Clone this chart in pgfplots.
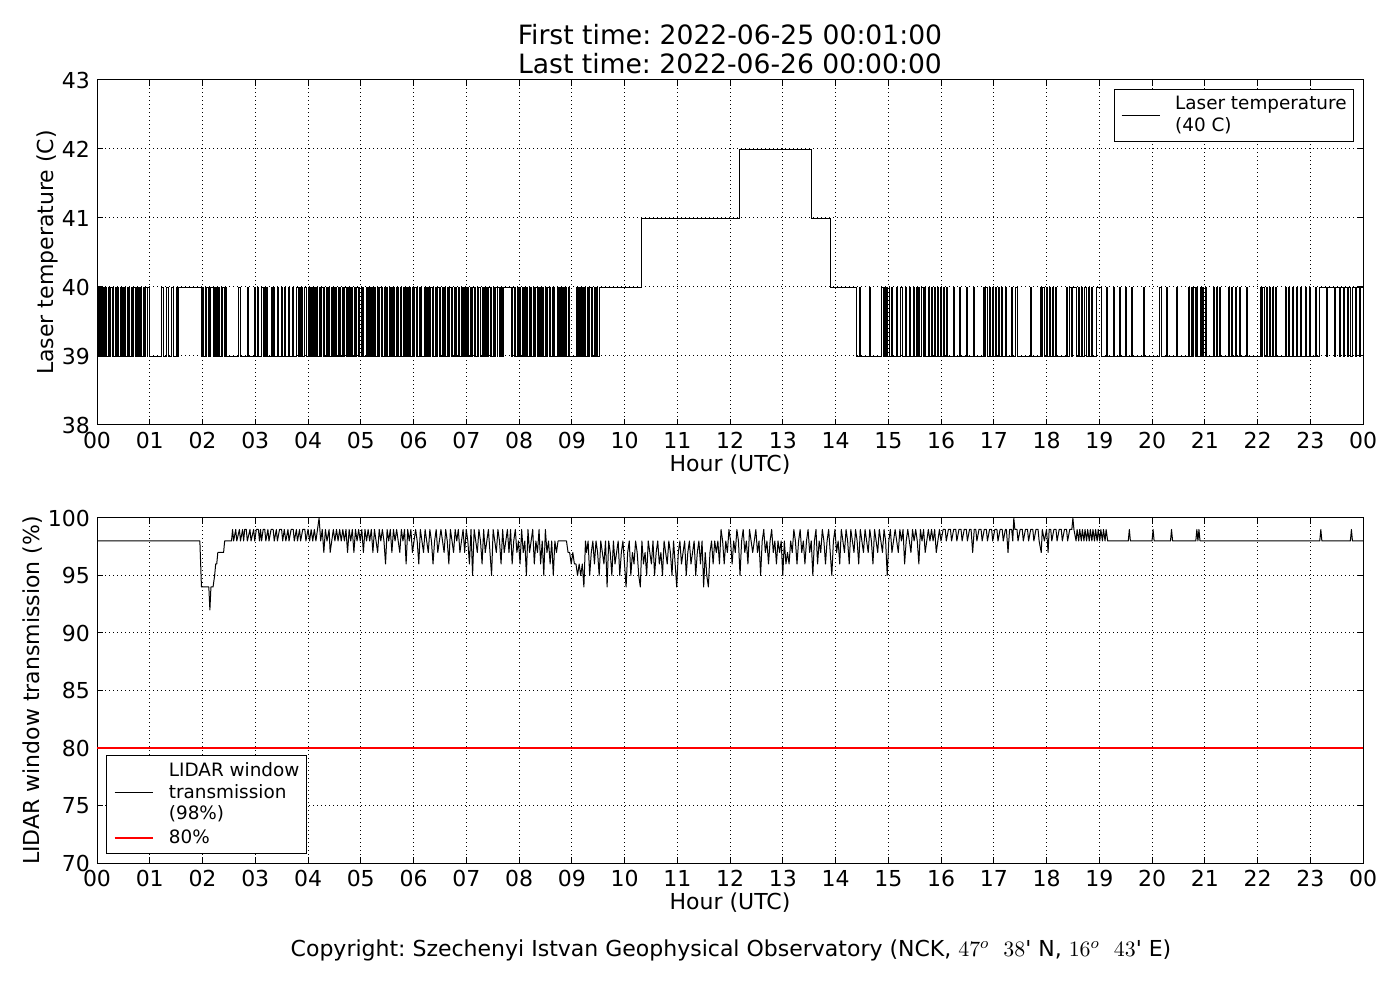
\documentclass[border=0pt]{standalone}
\usepackage{pgfplots}
\pgfplotsset{compat=1.18}
\usepackage{fontspec}
\setmainfont{DejaVu Sans}
\frenchspacing
\begin{document}
\begin{tikzpicture}
\path[use as bounding box] (0pt,0pt) rectangle (700pt,500pt);
\pgfplotsset{
  every axis/.append style={
    scale only axis, width=633pt, height=172.5pt,
    xmin=0, xmax=24, xtick={0,...,24},
    xticklabels={00,01,02,03,04,05,06,07,08,09,10,11,12,13,14,15,16,17,18,19,20,21,22,23,00},
    grid=major, grid style={black, line width=0.5pt, dash pattern=on 0.5pt off 1.5pt},
    axis line style={line width=0.5pt},
    major tick length=2.8pt, tick style={black, line width=0.5pt},
    tick label style={font=\fontsize{11}{13}\selectfont},
    label style={font=\fontsize{11}{13}\selectfont},
    /pgf/number format/assume math mode=true,
    xlabel={Hour (UTC)},
    xlabel style={at={(axis description cs:0.5,0)}, anchor=center, yshift=-20pt},
    legend cell align=left,
    legend image code/.code={\draw[#1] (0pt,0pt) -- (19pt,0pt);},
    legend style={draw=black, line width=0.5pt, font=\fontsize{9.2}{10.8}\selectfont,
      nodes={align=left, inner xsep=0pt, inner ysep=1pt}, inner xsep=3.5pt, inner ysep=2.5pt,
      column sep=7.5pt, row sep=1.5pt},
  }
}
\begin{axis}[at={(48.5pt,287.5pt)}, anchor=south west,
  ymin=38, ymax=43, ytick={38,...,43},
  ylabel={Laser temperature (C)},
  ylabel style={at={(axis description cs:-0.0395,0.5)}, anchor=center},
  legend style={at={(rel axis cs:0.993,0.974)}, anchor=north east}]
\addplot[black, line width=0.45pt, const plot] coordinates {
(0.00,40) (0.02,39) (0.04,40) (0.07,39) (0.08,40) (0.10,39) (0.13,40) (0.15,39) (0.16,40) (0.18,39)
(0.22,40) (0.24,39) (0.26,40) (0.29,39) (0.30,40) (0.32,39) (0.35,40) (0.37,39) (0.38,40) (0.40,39)
(0.44,40) (0.46,39) (0.48,40) (0.51,39) (0.52,40) (0.54,39) (0.57,40) (0.59,39) (0.60,40) (0.62,39)
(0.66,40) (0.68,39) (0.70,40) (0.73,39) (0.74,40) (0.76,39) (0.79,40) (0.81,39) (0.82,40) (0.84,39)
(0.88,40) (0.90,39) (0.92,40) (0.95,39) (0.96,40) (0.99,39)
(1.23,40) (1.26,39) (1.32,40) (1.35,39) (1.42,40) (1.44,39) (1.50,40) (1.53,39) (1.55,40)
(1.98,39) (2.00,40) (2.02,39) (2.05,40) (2.06,39) (2.08,40) (2.11,39) (2.13,40) (2.14,39) (2.16,40)
(2.20,39) (2.22,40) (2.24,39) (2.27,40) (2.28,39) (2.30,40) (2.33,39) (2.35,40) (2.36,39) (2.38,40)
(2.42,39) (2.44,40) (2.46,39) (2.69,40) (2.71,39) (2.85,40) (2.87,39)
(2.98,40) (3.00,39) (3.05,40) (3.07,39) (3.12,40) (3.16,39) (3.18,40) (3.20,39) (3.22,40) (3.24,39)
(3.30,40) (3.33,39) (3.34,40) (3.36,39) (3.42,40) (3.44,39) (3.50,40) (3.52,39) (3.55,40) (3.57,39)
(3.62,40) (3.65,39) (3.70,40) (3.73,39) (3.78,40) (3.81,39) (3.84,40) (3.86,39) (3.88,40) (3.90,39)
(3.94,40) (3.97,39)
(4.00,40) (4.02,39) (4.04,40) (4.07,39) (4.08,40) (4.10,39) (4.13,40) (4.15,39) (4.16,40) (4.18,39)
(4.22,40) (4.24,39) (4.26,40) (4.29,39) (4.30,40) (4.32,39) (4.35,40) (4.37,39) (4.38,40) (4.40,39)
(4.44,40) (4.46,39) (4.48,40) (4.51,39) (4.52,40) (4.54,39) (4.57,40) (4.59,39) (4.60,40) (4.62,39)
(4.66,40) (4.68,39) (4.70,40) (4.73,39) (4.74,40) (4.76,39) (4.79,40) (4.81,39) (4.82,40) (4.84,39)
(4.88,40) (4.90,39) (4.92,40) (4.95,39) (4.96,40) (4.98,39) (5.01,40) (5.03,39) (5.04,40) (5.06,39)
(5.10,40) (5.12,39) (5.14,40) (5.17,39) (5.18,40) (5.20,39) (5.23,40) (5.25,39) (5.26,40) (5.28,39)
(5.32,40) (5.34,39) (5.36,40) (5.39,39) (5.40,40) (5.42,39) (5.45,40) (5.47,39) (5.48,40) (5.50,39)
(5.54,40) (5.56,39) (5.58,40) (5.61,39) (5.62,40) (5.64,39) (5.67,40) (5.69,39) (5.70,40) (5.72,39)
(5.76,40) (5.78,39) (5.80,40) (5.83,39) (5.84,40) (5.86,39) (5.89,40) (5.91,39) (5.92,40) (5.94,39)
(5.98,40) (6.00,39) (6.02,40) (6.05,39) (6.06,40) (6.08,39) (6.11,40) (6.13,39) (6.14,40) (6.16,39)
(6.20,40) (6.22,39) (6.24,40) (6.27,39) (6.28,40) (6.30,39) (6.33,40) (6.35,39) (6.36,40) (6.38,39)
(6.42,40) (6.44,39) (6.46,40) (6.49,39) (6.50,40) (6.52,39) (6.55,40) (6.57,39) (6.58,40) (6.60,39)
(6.64,40) (6.66,39) (6.68,40) (6.71,39) (6.72,40) (6.74,39) (6.77,40) (6.79,39) (6.80,40) (6.82,39)
(6.86,40) (6.88,39) (6.90,40) (6.93,39) (6.94,40) (6.96,39) (6.99,40) (7.01,39) (7.02,40) (7.04,39)
(7.08,40) (7.10,39) (7.12,40) (7.15,39) (7.16,40) (7.18,39) (7.21,40) (7.23,39) (7.24,40) (7.26,39)
(7.30,40) (7.32,39) (7.34,40) (7.37,39) (7.38,40) (7.40,39) (7.43,40) (7.45,39) (7.46,40) (7.48,39)
(7.52,40) (7.54,39) (7.56,40) (7.59,39) (7.60,40) (7.62,39) (7.65,40) (7.67,39) (7.68,40) (7.69,39)
(7.71,40) (7.86,39) (7.88,40) (7.91,39) (7.92,40) (7.94,39) (7.97,40) (7.99,39) (8.00,40) (8.02,39)
(8.06,40) (8.08,39) (8.10,40) (8.13,39) (8.14,40) (8.16,39) (8.19,40) (8.21,39) (8.22,40) (8.24,39)
(8.28,40) (8.30,39) (8.32,40) (8.35,39) (8.36,40) (8.38,39) (8.41,40) (8.43,39) (8.44,40) (8.46,39)
(8.50,40) (8.52,39) (8.54,40) (8.57,39) (8.58,40) (8.60,39) (8.63,40) (8.65,39) (8.66,40) (8.68,39)
(8.72,40) (8.74,39) (8.76,40) (8.79,39) (8.80,40) (8.82,39) (8.85,40) (8.87,39) (8.88,40) (8.90,39)
(8.93,40) (8.95,39)
(9.08,40) (9.10,39) (9.12,40) (9.15,39) (9.16,40) (9.18,39) (9.21,40) (9.23,39) (9.24,40) (9.26,39)
(9.30,40) (9.32,39) (9.34,40) (9.37,39) (9.38,40) (9.40,39) (9.43,40) (9.45,39) (9.46,40) (9.48,39)
(9.52,40)
(10.33,41) (12.17,42) (13.55,41) (13.90,40)
(14.40,39) (14.45,40) (14.47,39) (14.65,40) (14.67,39) (14.88,40) (14.90,39) (14.93,40) (14.95,39)
(14.97,40) (14.99,39) (15.02,40) (15.03,39) (15.06,40) (15.08,39) (15.16,40) (15.18,39) (15.24,40)
(15.26,39) (15.32,40) (15.34,39) (15.40,40) (15.42,39) (15.48,40) (15.50,39) (15.53,40) (15.55,39)
(15.58,40) (15.60,39) (15.63,40) (15.66,39) (15.69,40) (15.71,39) (15.76,40) (15.79,39) (15.82,40)
(15.84,39) (15.87,40) (15.90,39) (15.93,40) (15.95,39) (15.99,40) (16.01,39) (16.04,40) (16.06,39)
(16.10,40) (16.12,39) (16.23,40) (16.25,39) (16.35,40) (16.37,39) (16.49,40) (16.51,39) (16.61,40)
(16.63,39) (16.80,40) (16.82,39) (16.85,40) (16.88,39) (16.91,40) (16.93,39) (16.97,40) (16.99,39)
(17.03,40) (17.05,39) (17.09,40) (17.11,39) (17.15,40) (17.17,39) (17.22,40) (17.24,39) (17.34,40)
(17.36,39) (17.42,40) (17.44,39) (17.69,40) (17.71,39) (17.88,40) (17.90,39) (17.93,40) (17.96,39)
(17.99,40) (18.02,39) (18.05,40) (18.07,39) (18.11,40) (18.13,39) (18.16,40) (18.19,39) (18.38,40)
(18.40,39) (18.43,40) (18.47,39) (18.49,40) (18.56,39) (18.60,40) (18.62,39) (18.66,40) (18.68,39)
(18.72,40) (18.75,39) (18.80,40) (18.82,39) (18.86,40) (18.88,39) (18.95,40) (19.05,39) (19.14,40)
(19.16,39) (19.27,40) (19.29,39) (19.39,40) (19.41,39) (19.50,40) (19.52,39) (19.61,40) (19.63,39)
(19.84,40) (19.86,39) (20.15,40) (20.17,39) (20.28,40) (20.30,39) (20.47,40) (20.49,39) (20.69,40)
(20.71,39) (20.74,40) (20.76,39) (20.79,40) (20.82,39) (20.85,40) (20.87,39) (20.91,40) (20.93,39)
(20.96,40) (20.98,39) (21.02,40) (21.04,39) (21.16,40) (21.18,39) (21.22,40) (21.24,39) (21.28,40)
(21.30,39) (21.45,40) (21.47,39) (21.51,40) (21.53,39) (21.58,40) (21.60,39) (21.65,40) (21.67,39)
(21.79,40) (21.81,39) (22.05,40) (22.07,39) (22.10,40) (22.13,39) (22.16,40) (22.18,39) (22.22,40)
(22.24,39) (22.28,40) (22.31,39) (22.34,40) (22.36,39) (22.52,40) (22.54,39) (22.58,40) (22.60,39)
(22.66,40) (22.68,39) (22.74,40) (22.76,39) (22.82,40) (22.84,39) (22.90,40) (22.92,39) (22.98,40)
(23.00,39) (23.10,40) (23.12,39) (23.18,40) (23.30,39) (23.32,40) (23.45,39) (23.47,40) (23.55,39)
(23.57,40) (23.62,39) (23.65,40) (23.70,39) (23.72,40) (23.77,39) (23.80,40) (23.85,39) (23.88,40)
(23.93,39) (23.95,40) (24.00,39)
};
\addlegendentry{Laser temperature\\(40 C)}
\end{axis}

\begin{axis}[at={(48.5pt,68.5pt)}, anchor=south west,
  ymin=70, ymax=100, ytick={70,75,...,100},
  ylabel={LIDAR window transmission (\%)},
  ylabel style={at={(axis description cs:-0.0506,0.5)}, anchor=center},
  legend style={at={(rel axis cs:0.0071,0.026)}, anchor=south west}]
\addplot[black, line width=0.5pt, line join=round] coordinates {
(0,98) (1.95,98) (1.98,94) (2.12,94) (2.14,92) (2.16,94) (2.20,94) (2.23,95) (2.25,96) (2.27,96)
(2.29,97) (2.40,97) (2.42,98) (2.55,98) (2.57,99) (2.59,98) (2.63,99) (2.65,98) (2.70,99) (2.72,98)
(2.76,99) (2.78,98) (2.80,99) (2.83,99) (2.85,98) (2.90,99) (2.92,98) (2.97,99) (2.99,98) (3.02,99)
(3.06,99) (3.08,98) (3.10,99) (3.12,98) (3.15,99) (3.18,99) (3.20,98) (3.24,99) (3.26,98) (3.30,99)
(3.34,99) (3.36,98) (3.40,99) (3.42,98) (3.46,99) (3.50,99) (3.52,98) (3.55,99) (3.58,98) (3.62,99)
(3.64,98) (3.68,99) (3.72,99) (3.74,98) (3.78,99) (3.80,98) (3.84,99) (3.86,98) (3.90,99) (3.94,99)
(3.96,98) (4.00,99) (4.03,98) (4.06,99) (4.09,98) (4.12,99) (4.15,98) (4.18,99) (4.21,100) (4.24,98)
(4.27,99) (4.30,97) (4.33,99) (4.36,98) (4.40,99) (4.42,97) (4.45,98) (4.48,99) (4.51,98) (4.54,99)
(4.57,98) (4.60,99) (4.63,98) (4.66,99) (4.69,98) (4.72,99) (4.75,97) (4.78,99) (4.81,98) (4.84,99)
(4.87,97) (4.90,99) (4.93,98) (4.96,99) (4.99,98) (5.02,99) (5.05,97) (5.08,99) (5.11,98) (5.14,99)
(5.17,98) (5.20,99) (5.23,97) (5.26,99) (5.29,98) (5.32,97) (5.35,99) (5.38,98) (5.41,99) (5.44,98)
(5.47,96) (5.50,99) (5.53,98) (5.56,99) (5.59,97) (5.62,99) (5.65,98) (5.68,99) (5.71,98) (5.74,97)
(5.77,99) (5.80,98) (5.83,99) (5.86,96) (5.89,99) (5.92,98) (5.95,99) (5.98,97) (6.01,98) (6.04,99)
(6.07,98) (6.10,96) (6.13,99) (6.16,98) (6.19,97) (6.22,99) (6.25,98) (6.28,97) (6.31,99) (6.34,98)
(6.37,96) (6.40,98) (6.43,99) (6.46,97) (6.49,98) (6.52,99) (6.55,98) (6.58,97) (6.61,99) (6.64,98)
(6.67,96) (6.70,99) (6.73,98) (6.76,97) (6.79,99) (6.82,98) (6.85,99) (6.88,97) (6.91,98) (6.94,99)
(6.97,97) (7.00,99) (7.03,98) (7.06,96) (7.09,99) (7.12,95) (7.15,99) (7.18,98) (7.21,97) (7.24,99)
(7.27,98) (7.30,96) (7.33,99) (7.36,97) (7.39,98) (7.42,99) (7.45,97) (7.48,95) (7.51,99) (7.54,98)
(7.57,97) (7.60,99) (7.63,98) (7.66,96) (7.69,99) (7.72,97) (7.75,98) (7.78,99) (7.81,97) (7.84,99)
(7.87,96) (7.90,98) (7.93,99) (7.96,97) (7.99,98) (8.02,96) (8.05,99) (8.08,97) (8.11,98) (8.14,95)
(8.17,99) (8.20,97) (8.23,98) (8.26,99) (8.29,96) (8.32,98) (8.35,97) (8.38,99) (8.41,96) (8.44,98)
(8.47,95) (8.50,99) (8.53,97) (8.56,98) (8.59,96) (8.62,98) (8.65,95) (8.68,98) (8.71,97) (8.74,98)
(8.90,98) (8.93,97) (8.96,97) (8.99,96) (9.02,97) (9.05,96) (9.08,96) (9.11,95) (9.14,96) (9.17,95)
(9.20,96) (9.23,94) (9.26,98) (9.28,97) (9.31,98) (9.34,95) (9.37,97) (9.40,98) (9.43,96) (9.46,98)
(9.49,97) (9.52,95) (9.55,98) (9.58,97) (9.61,96) (9.64,98) (9.67,94) (9.70,98) (9.73,97) (9.76,95)
(9.79,98) (9.82,96) (9.85,97) (9.88,98) (9.91,95) (9.94,97) (9.97,98) (10.00,96) (10.03,94) (10.06,97)
(10.09,98) (10.12,95) (10.15,97) (10.18,96) (10.21,98) (10.24,97) (10.27,95) (10.30,94) (10.33,98) (10.36,96)
(10.39,97) (10.42,95) (10.45,98) (10.48,97) (10.51,96) (10.54,98) (10.57,95) (10.60,97) (10.63,98) (10.66,96)
(10.69,97) (10.72,95) (10.75,98) (10.78,97) (10.81,96) (10.84,98) (10.87,97) (10.90,95) (10.93,98) (10.96,96)
(10.99,94) (11.02,97) (11.05,98) (11.08,96) (11.11,97) (11.14,98) (11.17,95) (11.20,97) (11.23,98) (11.26,96)
(11.29,97) (11.32,98) (11.35,95) (11.38,97) (11.41,98) (11.44,96) (11.47,98) (11.50,94) (11.53,97) (11.56,95)
(11.59,94) (11.62,97) (11.65,98) (11.68,96) (11.71,98) (11.74,97) (11.77,98) (11.80,96) (11.83,99) (11.86,98)
(11.89,96) (11.92,98) (11.95,97) (11.98,99) (12.01,98) (12.04,96) (12.07,98) (12.10,97) (12.13,99) (12.16,98)
(12.19,95) (12.22,98) (12.25,99) (12.28,97) (12.31,98) (12.34,96) (12.37,99) (12.40,98) (12.43,97) (12.46,98)
(12.49,99) (12.52,97) (12.55,98) (12.58,95) (12.61,98) (12.64,99) (12.67,97) (12.70,98) (12.73,96) (12.76,98)
(12.79,99) (12.82,97) (12.85,98) (12.88,96) (12.91,98) (12.94,97) (12.97,98) (13.00,95) (13.03,98) (13.06,96)
(13.09,97) (13.12,96) (13.15,98) (13.18,97) (13.21,99) (13.24,98) (13.27,96) (13.30,98) (13.33,99) (13.36,97)
(13.39,98) (13.42,96) (13.45,98) (13.48,99) (13.51,97) (13.54,98) (13.57,95) (13.60,98) (13.63,99) (13.66,96)
(13.69,98) (13.72,97) (13.75,99) (13.78,98) (13.81,96) (13.84,98) (13.87,99) (13.90,97) (13.93,95) (13.96,98)
(13.99,99) (14.02,97) (14.05,98) (14.08,96) (14.11,99) (14.14,98) (14.17,97) (14.20,99) (14.23,98) (14.26,96)
(14.29,99) (14.32,98) (14.35,97) (14.38,99) (14.41,98) (14.44,96) (14.47,99) (14.50,98) (14.53,97) (14.56,99)
(14.59,98) (14.62,97) (14.65,99) (14.68,98) (14.71,96) (14.74,99) (14.77,98) (14.80,97) (14.83,99) (14.86,98)
(14.89,97) (14.92,99) (14.95,98) (14.98,95) (15.01,98) (15.04,99) (15.07,97) (15.10,98) (15.13,99) (15.16,98)
(15.19,97) (15.22,99) (15.25,98) (15.28,99) (15.31,96) (15.34,98) (15.37,99) (15.40,98) (15.43,97) (15.46,99)
(15.49,98) (15.52,99) (15.55,98) (15.58,96) (15.61,99) (15.64,98) (15.67,99) (15.70,97) (15.73,98) (15.76,99)
(15.79,98) (15.82,99) (15.85,98) (15.88,99) (15.91,97) (15.94,98) (15.97,99) (16.00,98) (16.04,99) (16.08,99)
(16.10,98) (16.14,99) (16.18,99) (16.20,98) (16.24,99) (16.28,99) (16.30,98) (16.34,99) (16.38,99) (16.40,98)
(16.44,99) (16.48,99) (16.50,98) (16.54,99) (16.57,99) (16.60,97) (16.63,99) (16.66,99) (16.68,98) (16.72,99)
(16.76,99) (16.78,98) (16.82,99) (16.86,99) (16.88,98) (16.92,99) (16.96,99) (16.98,98) (17.02,99) (17.06,99)
(17.08,98) (17.12,99) (17.16,99) (17.18,98) (17.22,99) (17.24,99) (17.27,97) (17.30,99) (17.34,99) (17.36,98)
(17.38,100) (17.40,99) (17.44,99) (17.46,98) (17.50,99) (17.54,99) (17.56,98) (17.60,99) (17.64,99) (17.66,98)
(17.70,99) (17.74,99) (17.76,98) (17.80,99) (17.84,99) (17.86,98) (17.90,97) (17.92,99) (17.96,98) (18.00,99)
(18.03,97) (18.05,99) (18.08,99) (18.10,98) (18.14,99) (18.18,99) (18.20,98) (18.24,99) (18.28,99) (18.30,98)
(18.34,99) (18.38,99) (18.40,98) (18.44,99) (18.48,99) (18.50,100) (18.52,99) (18.56,98) (18.58,99) (18.61,98)
(18.63,99) (18.66,98) (18.68,99) (18.71,98) (18.73,99) (18.76,98) (18.78,99) (18.81,98) (18.83,99) (18.86,98)
(18.88,99) (18.91,98) (18.93,99) (18.96,98) (18.98,99) (19.01,98) (19.03,99) (19.06,98) (19.08,99) (19.11,98)
(19.13,99) (19.16,98) (19.55,98) (19.57,99) (19.59,98) (20.00,98) (20.02,99) (20.04,98) (20.35,98) (20.37,99)
(20.39,98) (20.83,98) (20.85,99) (20.87,98) (20.89,99) (20.91,98) (23.18,98) (23.20,99) (23.22,98) (23.76,98)
(23.78,99) (23.80,98) (24.00,98)
};
\addlegendentry{LIDAR window\\transmission\\(98\%)}
\addplot[red, line width=1.2pt] coordinates {(0,80) (24,80)};
\addlegendentry{80\%}
\end{axis}

\node[font=\fontsize{13.3}{16}\selectfont] at (365pt,482.5pt) {First time: 2022-06-25 00:01:00};
\node[font=\fontsize{13.3}{16}\selectfont] at (365pt,468pt) {Last time: 2022-06-26 00:00:00};
\node[font=\fontsize{11}{13}\selectfont] at (365.5pt,25pt) {Copyright: Szechenyi Istvan Geophysical Observatory (NCK, $47^o$\ \ $38$\textquotesingle{} N, $16^o$\ \ $43$\textquotesingle{} E)};
\end{tikzpicture}
\end{document}
